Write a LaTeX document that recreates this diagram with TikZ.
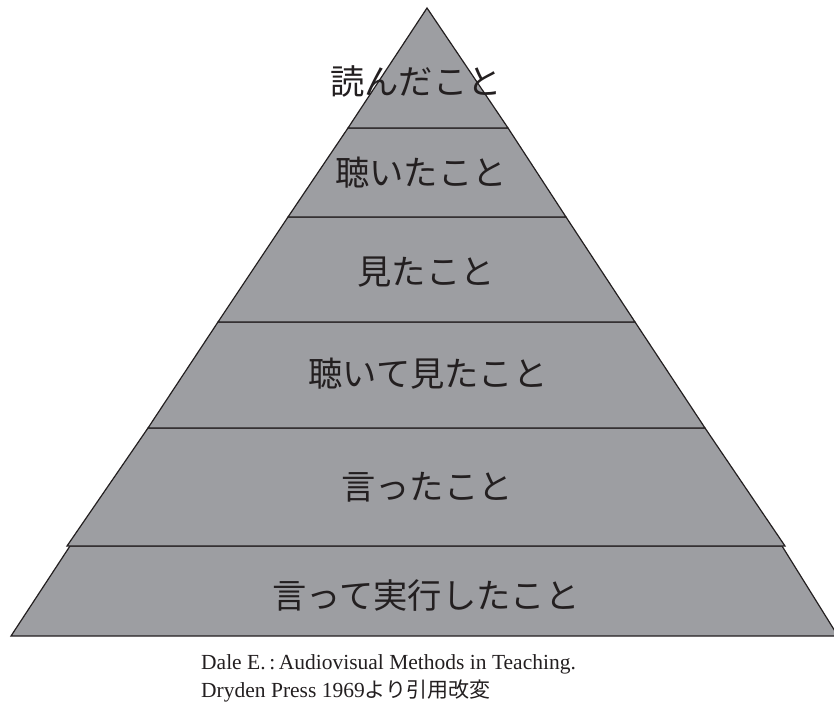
\documentclass[tikz,border=0pt]{standalone}
\usepackage{fontspec}
\setmainfont{Liberation Serif}
\newfontfamily\jp{Noto Sans CJK JP}
\definecolor{pyrfill}{RGB}{157,158,162}
\definecolor{pyrline}{RGB}{35,31,32}
\tikzset{
  band/.style={fill=pyrfill, draw=pyrline, line width=1.2pt, line join=miter},
  lbl/.style={font=\jp\fontsize{34.3}{40}\selectfont, text=pyrline, inner sep=0pt, anchor=center},
  captext/.style={font=\fontsize{21.5}{26}\selectfont, text=pyrline, inner sep=0pt, anchor=base west}
}
\begin{document}
\begin{tikzpicture}[x=1pt,y=-1pt]
\useasboundingbox (0,0) rectangle (834,701);
% bands, bottom to top
\draw[band] (70,546) -- (782,546) -- (838,636) -- (11,636) -- cycle;
\draw[band] (148,428) -- (705,428) -- (785,546) -- (67,546) -- cycle;
\draw[band] (218,322) -- (635,322) -- (705,428) -- (148,428) -- cycle;
\draw[band] (288,217) -- (566,217) -- (635,322) -- (218,322) -- cycle;
\draw[band] (348,128) -- (508,128) -- (566,217) -- (288,217) -- cycle;
\draw[band] (427,8) -- (508,128) -- (348,128) -- cycle;
% labels
\node[lbl] (l1) at (416,81) {読んだこと};
\node[lbl] (l2) at (421,173) {聴いたこと};
\node[lbl] (l3) at (426,272) {見たこと};
\node[lbl] (l4) at (428,374) {聴いて見たこと};
\node[lbl] (l5) at (427,487) {言ったこと};
\node[lbl] (l6) at (426,595) {言って実行したこと};
% caption
\node[captext] (c1) at (201,669) {Dale E.\,:\,Audiovisual Methods in Teaching.};
\node[captext] (c2) at (201,697) {Dryden Press 1969{\jp\fontsize{21}{26}\selectfont より引用改変}};
\end{tikzpicture}
\end{document}
